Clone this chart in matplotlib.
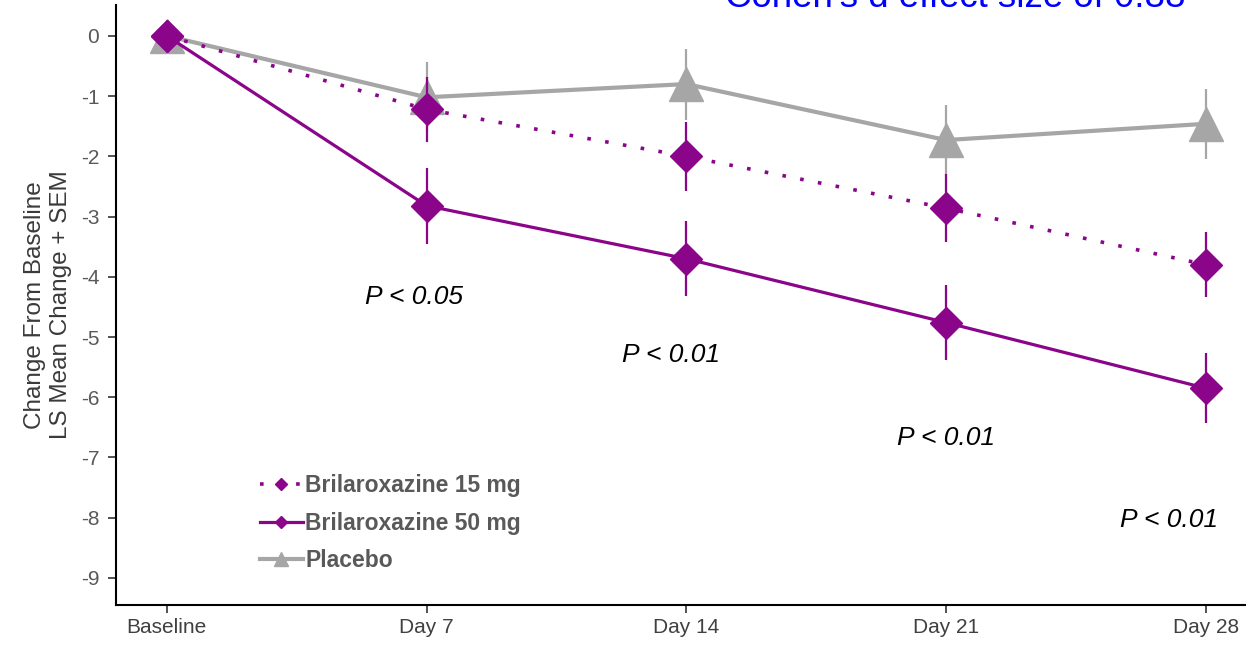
import matplotlib.pyplot as plt

days = ['Baseline', 'Day 7', 'Day 14', 'Day 21', 'Day 28']
x = list(range(len(days)))

placebo = [0, -1.02, -0.80, -1.73, -1.46]
placebo_sem = [0, 0.58, 0.59, 0.58, 0.58]
b15 = [0, -1.22, -2.00, -2.86, -3.80]
b15_sem = [0, 0.54, 0.57, 0.56, 0.54]
b50 = [0, -2.82, -3.70, -4.76, -5.85]
b50_sem = [0, 0.63, 0.62, 0.62, 0.58]

p_labels = ['P < 0.05', 'P < 0.01', 'P < 0.01', 'P < 0.01']
p_pos = [(0.95, -4.34), (1.94, -5.30), (3.0, -6.68), (3.86, -8.04)]

purple = '#8B058B'
grey = '#A6A6A6'

plt.rcParams['font.family'] = ['Liberation Sans', 'DejaVu Sans']

fig = plt.figure(figsize=(12.46, 6.45), dpi=100)
ax = fig.add_axes([0.093, 0.062, 0.906, 0.930])

# placebo
ax.errorbar(x, placebo, yerr=placebo_sem, fmt='none', ecolor=grey, elinewidth=1.6, zorder=1)
pl, = ax.plot(x, placebo, color=grey, lw=3, marker='^', ms=25, label='Placebo', zorder=2)
# 15 mg
ax.errorbar(x, b15, yerr=b15_sem, fmt='none', ecolor=purple, elinewidth=1.6, zorder=3)
l15, = ax.plot(x, b15, color=purple, lw=2.6, ls=(0, (1, 4)), marker='D', ms=16,
               label='Brilaroxazine 15 mg', zorder=4)
# 50 mg
ax.errorbar(x, b50, yerr=b50_sem, fmt='none', ecolor=purple, elinewidth=1.6, zorder=5)
l50, = ax.plot(x, b50, color=purple, lw=2.3, marker='D', ms=16,
               label='Brilaroxazine 50 mg', zorder=6)

for lab, (px, py) in zip(p_labels, p_pos):
    ax.text(px, py, lab, fontsize=19, style='italic', ha='center', va='center', color='black')

ax.set_xlim(-0.196, 4.15)
ax.set_ylim(-9.45, 0.51)
ax.set_xticks(x)
ax.set_xticklabels(days, fontsize=15, color='#404040')
ax.set_yticks(range(0, -10, -1))
ax.set_yticklabels([str(v) for v in range(0, -10, -1)], fontsize=15, color='#595959')
ax.tick_params(axis='both', direction='out', length=6, width=1.2, color='#333333')
ax.tick_params(axis='y', pad=6)
ax.spines['top'].set_visible(False)
ax.spines['right'].set_visible(False)
ax.spines['left'].set_linewidth(1.5)
ax.spines['bottom'].set_linewidth(1.5)
ax.set_ylabel('Change From Baseline\nLS Mean Change + SEM', fontsize=17.5, color='#3a3a3a',
              linespacing=1.25, labelpad=6)

leg = ax.legend(handles=[l15, l50, pl], loc='upper left', bbox_to_anchor=(0.109, 0.252),
                frameon=False, markerscale=0.4, handlelength=1.9, handletextpad=0.1,
                labelspacing=0.62, prop={'weight': 'bold', 'size': 16.5})
for t in leg.get_texts():
    t.set_color('#595959')

fig.text(725 / 1246, 1 - 7 / 645, "Cohen's d effect size of 0.88", fontsize=26.4,
         color='#0000FF', ha='left', va='baseline')

fig.savefig('out.png', dpi=100)
